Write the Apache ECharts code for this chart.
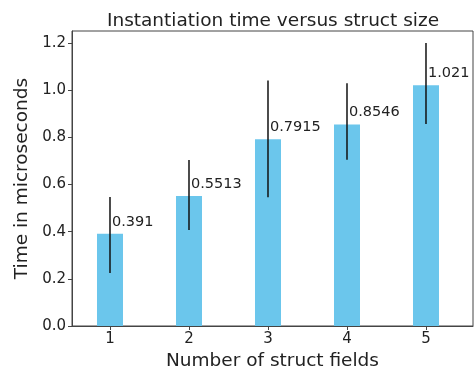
<!DOCTYPE html>
<html><head><meta charset="utf-8">
<script src="https://cdn.jsdelivr.net/npm/echarts@6/dist/echarts.min.js"></script>
<style>html,body{margin:0;padding:0;background:#fff}#c{width:475px;height:373px}</style>
</head><body><div id="c"></div>
<script>
var categories = [1, 2, 3, 4, 5];
var values = [0.391, 0.5513, 0.7915, 0.8546, 1.021];
var errPlus = [0.156, 0.153, 0.25, 0.175, 0.179];
var errMinus = [0.166, 0.144, 0.245, 0.15, 0.164];
var yTicks = [0.0, 0.2, 0.4, 0.6, 0.8, 1.0, 1.2];

var font = 'DejaVu Sans';
var chart = echarts.init(document.getElementById('c'), null, {renderer: 'canvas'});
var barData = categories.map(function (c, i) { return [c, values[i]]; });
var errData = categories.map(function (c, i) { return [c, values[i] - errMinus[i], values[i] + errPlus[i]]; });

chart.setOption({
  animation: false,
  title: {
    text: 'Instantiation time versus struct size',
    left: 268, top: 7, textAlign: 'center',
    textStyle: {fontFamily: font, fontSize: 18.5, fontWeight: 'normal', color: '#222'}
  },
  grid: {left: 72, right: 2, top: 31, bottom: 47, show: true, borderColor: '#444', borderWidth: 1,
    backgroundColor: 'transparent', containLabel: false, outerBoundsMode: 'none'},
  xAxis: {
    type: 'value', min: 0.519, max: 5.595, interval: 1,
    name: 'Number of struct fields', nameLocation: 'middle', nameGap: 23,
    nameTextStyle: {fontFamily: font, fontSize: 18.5, color: '#222'},
    axisLine: {show: true, lineStyle: {color: '#444'}},
    axisTick: {show: true, length: 4, lineStyle: {color: '#444'}, customValues: categories},
    axisLabel: {fontFamily: font, fontSize: 15, color: '#222', margin: 6, customValues: categories,
      formatter: function (v) { return String(v); }},
    splitLine: {show: false}
  },
  yAxis: {
    type: 'value', min: 0, max: 1.251,
    name: 'Time in microseconds', nameLocation: 'middle', nameGap: 40,
    nameTextStyle: {fontFamily: font, fontSize: 18.5, color: '#222'},
    axisLine: {show: true, lineStyle: {color: '#444'}},
    axisTick: {show: true, length: 4, lineStyle: {color: '#444'}, customValues: yTicks},
    axisLabel: {fontFamily: font, fontSize: 15, color: '#222', margin: 6, customValues: yTicks,
      formatter: function (v) { return v.toFixed(1); }},
    splitLine: {show: false}
  },
  series: [
    {
      type: 'bar', data: barData, barWidth: 26,
      itemStyle: {color: '#6bc6ec'},
      label: {
        show: true, position: [15, -12], align: 'left', verticalAlign: 'middle',
        fontFamily: font, fontSize: 14.5, color: '#222',
        formatter: function (p) { return String(p.value[1]); }
      },
      z: 2
    },
    {
      type: 'custom', data: errData, z: 5,
      renderItem: function (params, api) {
        var x = api.value(0);
        var a = api.coord([x, api.value(1)]);
        var b = api.coord([x, api.value(2)]);
        return {type: 'line', shape: {x1: a[0], y1: a[1], x2: b[0], y2: b[1]},
          style: {stroke: '#111', lineWidth: 1.5}};
      }
    }
  ]
});
</script></body></html>
